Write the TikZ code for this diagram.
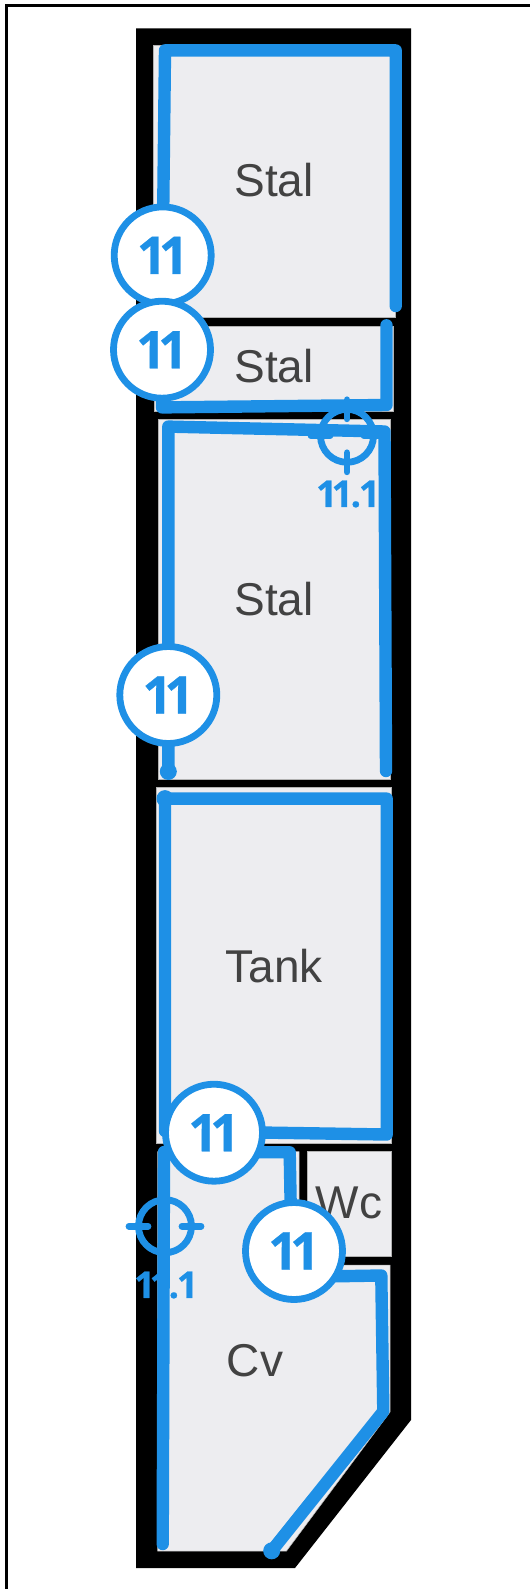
\documentclass[tikz,border=0pt]{standalone}
\usepackage{fontspec}
\setmainfont{Liberation Sans}
\newfontfamily\numfont[UprightFont={* Bold},FakeBold=0.5]{Open Sans}
\usepackage{xcolor}
\usetikzlibrary{calc}
\definecolor{planblue}{HTML}{1E90E6}
\definecolor{roomgrey}{HTML}{EDEDF0}
\definecolor{labelgrey}{HTML}{424242}
\newcommand{\tightones}{1\kern-.15em 1}
\begin{document}
\begin{tikzpicture}
	[x=1pt,y=-1pt,every node/.style={inner sep=0pt}]
	\tikzstyle{hull} = [fill=black];
	\tikzstyle{room} = [fill=roomgrey,draw=gray!60,line width=0.5pt];
	\tikzstyle{edges} = [draw=planblue,line width=12.4pt,line cap=round,line join=round];
	\tikzstyle{dotend} = [circle,fill=planblue,minimum size=17pt];
	\tikzstyle{badge} = [circle,draw=planblue,line width=6.8pt,fill=white,minimum size=97pt,text=planblue,font=\fontsize{52}{52}\numfont];
	\tikzstyle{roomlabel} = [text=labelgrey,font=\fontsize{46}{46}\selectfont];
	\tikzstyle{sightlabel} = [text=planblue,font=\fontsize{37}{37}\numfont];
	\tikzstyle{sight} = [draw=planblue,line width=6.8pt,line cap=round];
	
	\useasboundingbox (0,0) rectangle (530,1589);
	\fill[white] (0,0) rectangle (530,1589);
	\draw[line width=3.2pt] (6.5,1589) -- (6.5,5.7) -- (530,5.7);
	
	\fill[hull] (136,28.4) -- (411,28.4) -- (411,1420) -- (295,1568) -- (136,1568) -- cycle;
	
	\path[room] (153.5,45.6) rectangle (395,317.2);
	\path[room] (154.5,325.8) rectangle (393,411.5);
	\path[room] (158.5,419.6) rectangle (390,778.8);
	\path[room] (156,787.4) rectangle (391,1143.6);
	\path[room] (157.5,1151.7) -- (299,1151.7) -- (299,1265.2) -- (390,1265.2) -- (390,1412) -- (286.5,1551) -- (157.5,1551) -- cycle;
	\path[room] (307.5,1151.7) rectangle (391,1256.6);
	
	\node[roomlabel] (stala) at (274,180) {Stal};
	\node[roomlabel] (stalb) at (274,366) {Stal};
	\node[roomlabel] (stalc) at (274,599) {Stal};
	\node[roomlabel] (tank) at (274,966) {Tank};
	\node[roomlabel] (cv) at (255,1361) {Cv};
	\node[roomlabel] (wc) at (349,1203) {Wc};
	
	\node[sightlabel] (ma) at (348,494) {\tightones\kern-.06em.\kern-.06em 1};
	\node[sightlabel] (mb) at (166,1285) {\tightones\kern-.06em.\kern-.06em 1};
	
	\coordinate (a1) at (162.7,255.4);
	\coordinate (a2) at (165,50.4);
	\coordinate (a3) at (395.7,50.4);
	\coordinate (a4) at (395.7,306);
	\coordinate (b1) at (386.5,325.3);
	\coordinate (b2) at (386.5,405);
	\coordinate (b3) at (162,407.4);
	\coordinate (b4) at (162,349.7);
	\coordinate (c1) at (168.3,771.5);
	\coordinate (c2) at (168.3,426.6);
	\coordinate (c3) at (384.5,431.5);
	\coordinate (c4) at (386,771);
	\coordinate (d1) at (165,798.6);
	\coordinate (d2) at (386.7,798.6);
	\coordinate (d3) at (386.7,1134.5);
	\coordinate (d4) at (165,1131);
	\coordinate (e1) at (162.7,1544);
	\coordinate (e2) at (164,1152);
	\coordinate (e3) at (289.7,1152.3);
	\coordinate (e4) at (292,1277);
	\coordinate (e5) at (381.3,1275.5);
	\coordinate (e6) at (383.3,1411.4);
	\coordinate (e7) at (271.7,1550.8);
	
	\draw[edges] (a1) -- (a2) -- (a3) -- (a4);
	\draw[edges] (b1) -- (b2) -- (b3) -- (b4);
	\draw[edges] (c1) -- (c2) -- (c3) -- (c4);
	\draw[edges] (d1) -- (d2) -- (d3) -- (d4) -- (d1);
	\draw[edges] (e1) -- (e2) -- (e3) -- (e4) -- (e5) -- (e6) -- (e7);
	
	\node[dotend] (c0) at (c1) {};
	\node[dotend] (d0) at (d1) {};
	\node[dotend] (e0) at (e7) {};
	
	\foreach \name/\cx/\cy in {sa/347/435.8,sb/165/1226.2}{
		\coordinate (\name) at (\cx,\cy);
		\draw[sight] (\name) circle (26.5);
		\draw[sight] ($(\name)+(0,-36)$) -- ($(\name)+(0,-17)$);
		\draw[sight] ($(\name)+(0,17)$) -- ($(\name)+(0,36)$);
		\draw[sight] ($(\name)+(-36,0)$) -- ($(\name)+(-17,0)$);
		\draw[sight] ($(\name)+(17,0)$) -- ($(\name)+(36,0)$);
	}
	
	\node[badge] (n1) at (162.7,255.4) {\tightones};
	\node[badge] (n2) at (162,349.7) {\tightones};
	\node[badge] (n3) at (168.3,695) {\tightones};
	\node[badge] (n4) at (214,1132.7) {\tightones};
	\node[badge] (n5) at (294,1251) {\tightones};
\end{tikzpicture}
\end{document}
